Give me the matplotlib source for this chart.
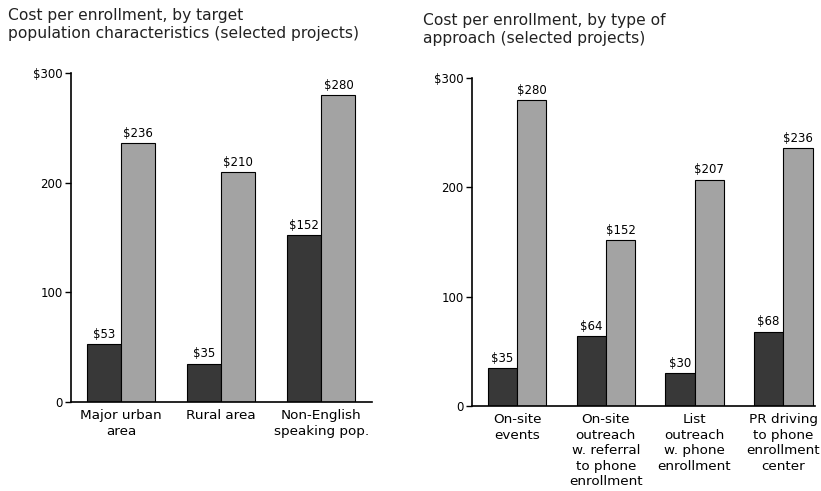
import matplotlib
matplotlib.use("Agg")
import matplotlib.pyplot as plt
import numpy as np

plt.rcParams['font.family'] = ['DejaVu Sans']

# Left panel: target population characteristics
pop_categories = ["Major urban\narea", "Rural area", "Non-English\nspeaking pop."]
pop_low = [53, 35, 152]
pop_high = [236, 210, 280]

# Right panel: type of approach
app_categories = ["On-site\nevents",
                  "On-site\noutreach\nw. referral\nto phone\nenrollment",
                  "List\noutreach\nw. phone\nenrollment",
                  "PR driving\nto phone\nenrollment\ncenter"]
app_low = [35, 64, 30, 68]
app_high = [280, 152, 207, 236]

y_ticks = [0, 100, 200, 300]
y_tick_labels = ["0", "100", "200", "$300"]

DARK = "#383838"
LIGHT = "#a3a3a3"

fig = plt.figure(figsize=(8.21, 4.91), dpi=100)


def draw_panel(ax, cats, low, high, width, xlim):
    x = np.arange(len(cats))
    ax.bar(x - width / 2, low, width, color=DARK, edgecolor="black", linewidth=0.8)
    ax.bar(x + width / 2, high, width, color=LIGHT, edgecolor="black", linewidth=0.8)
    for xi, v in zip(x, low):
        ax.text(xi - width / 2, v + 3, f"${v}", ha="center", va="bottom", fontsize=8.5)
    for xi, v in zip(x, high):
        ax.text(xi + width / 2, v + 3, f"${v}", ha="center", va="bottom", fontsize=8.5)
    ax.set_xlim(*xlim)
    ax.set_ylim(0, 300)
    ax.set_yticks(y_ticks)
    ax.set_yticklabels(y_tick_labels, fontsize=8.5)
    ax.set_xticks(x)
    ax.set_xticklabels(cats, fontsize=9.7, linespacing=1.26)
    ax.tick_params(axis="x", length=0, pad=5)
    ax.tick_params(axis="y", length=4, width=1, pad=2)
    for s in ("top", "right"):
        ax.spines[s].set_visible(False)
    ax.spines["left"].set_linewidth(1.2)
    ax.spines["bottom"].set_linewidth(1.2)


ax1 = fig.add_axes([0.0865, 0.181, 0.366, 0.670])
draw_panel(ax1, pop_categories, pop_low, pop_high, 0.34, (-0.5, 2.5))

ax2 = fig.add_axes([0.575, 0.173, 0.418, 0.668])
draw_panel(ax2, app_categories, app_low, app_high, 0.33, (-0.507, 3.36))

fig.text(8 / 821, 1 - 24.5 / 491,
         "Cost per enrollment, by target\npopulation characteristics (selected projects)",
         fontsize=11.2, color="#222222", va="center", ha="left", linespacing=1.25)
fig.text(423 / 821, 1 - 29.5 / 491,
         "Cost per enrollment, by type of\napproach (selected projects)",
         fontsize=11.2, color="#222222", va="center", ha="left", linespacing=1.25)

fig.savefig("out.png", dpi=100)
